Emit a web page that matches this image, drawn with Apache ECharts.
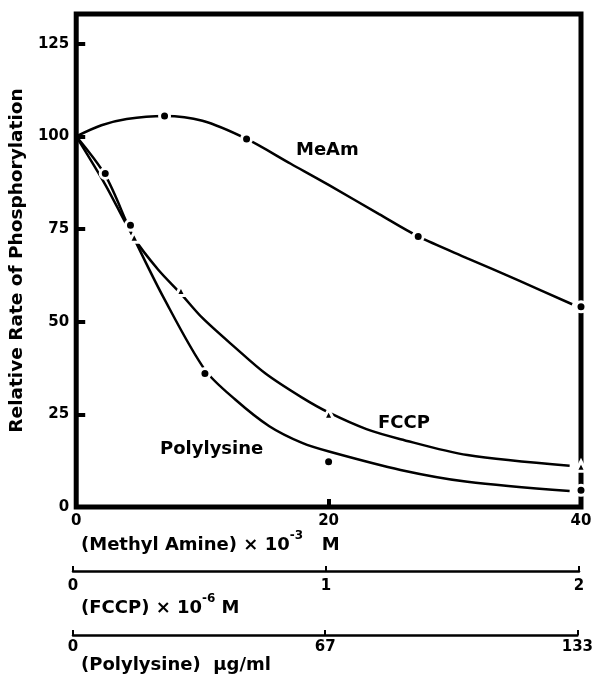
<!DOCTYPE html>
<html><head><meta charset="utf-8">
<script src="https://cdn.jsdelivr.net/npm/echarts@6/dist/echarts.min.js"></script>
<style>html,body{margin:0;padding:0;background:#fff}#c{width:596px;height:676px}</style>
</head><body><div id="c"></div>
<script>
// ---- data ----
const xTicks = [0, 20, 40];               // (Methyl Amine) x 10^-3 M
const fccpTicks = [0, 1, 2];              // (FCCP) x 10^-6 M
const polyTicks = [0, 67, 133];           // (Polylysine) ug/ml
const yTicks = [0, 25, 50, 75, 100, 125];

// measured points
const meamPointsX = [7, 13.5, 27.1, 40];
const meamPointsY = [105.5, 99.3, 73, 54];
const fccpPointsX = [4.6, 8.3, 20, 40];
const fccpPointsY = [72.8, 58.4, 25, 11];
const polyPointsX = [2.3, 4.3, 10.2, 20, 40];
const polyPointsY = [90, 76, 36, 12.2, 4.5];

// hand-drawn curves
const meamCurveX = [0, 2, 4, 7, 10, 13.5, 17, 20, 24, 27.1, 31, 35, 39.3];
const meamCurveY = [100, 103, 104.7, 105.5, 104.2, 99.3, 92.6, 86.9, 79, 73, 67.1, 61.2, 54.7];
const fccpCurveX = [0, 2.3, 4.6, 6.5, 8.3, 10, 12.6, 15, 17.9, 20, 23, 25.7, 31, 39.1];
const fccpCurveY = [100, 87, 72.5, 64, 57.5, 51, 43, 36, 29.5, 25.5, 21, 18.3, 14, 11.1];
const polyCurveX = [0, 2.3, 4.3, 7, 10.2, 12.6, 15.3, 17.9, 20.1, 25.7, 31, 39.1];
const polyCurveY = [100, 89.5, 74.5, 56, 37, 29, 21.8, 17.3, 14.9, 10, 6.8, 4.3];

const zip = (a, b) => a.map((v, i) => [v, b[i]]);
const FONT = 'DejaVu Sans';
const lab = {fontFamily: FONT, fontWeight: 'bold', fontSize: 15, color: '#000'};

const chart = echarts.init(document.getElementById('c'), null, {renderer: 'canvas'});

const lineSeries = (x, y) => ({
  type: 'line', xAxisIndex: 0, yAxisIndex: 0, data: zip(x, y), smooth: 0.3,
  showSymbol: false, silent: true, z: 2,
  lineStyle: {color: '#000', width: 2.5}
});
const pointSeries = (x, y, sym, size) => ({
  type: 'scatter', xAxisIndex: 0, yAxisIndex: 0, data: zip(x, y), symbol: sym, symbolSize: size, z: 3,
  itemStyle: {color: '#000', borderColor: '#fff', borderWidth: 3, opacity: 1}
});

const subAxis = (idx, max, interval, ticks, margin) => ({
  gridIndex: idx, type: 'value', min: 0, max: max, interval: interval,
  axisLine: {show: true, onZero: false, lineStyle: {color: '#000', width: 2.5}},
  axisTick: {show: true, inside: true, length: 5, lineStyle: {color: '#000', width: 2}},
  axisLabel: Object.assign({margin: margin, formatter: v => {
    const r = ticks.find(t => Math.abs(t - v) < 0.6); return r === undefined ? '' : String(r);
  }}, lab),
  splitLine: {show: false}
});

const option = {
  animation: false,
  backgroundColor: '#fff',
  grid: [
    {left: 73, right: 15, top: 14, bottom: 169, show: true, borderColor: '#000', borderWidth: 5, backgroundColor: 'transparent'},
    {left: 73, right: 17, top: 571, height: 0},
    {left: 73, right: 17, top: 635, height: 0}
  ],
  xAxis: [
    {gridIndex: 0, type: 'value', min: 0, max: 40, interval: 20,
     axisLine: {show: false},
     axisTick: {show: true, inside: true, length: 8, lineStyle: {color: '#000', width: 4}},
     axisLabel: Object.assign({margin: 7, formatter: v => xTicks.includes(v) ? String(v) : ''}, lab),
     splitLine: {show: false}},
    subAxis(1, 2, 1, fccpTicks, 8),
    subAxis(2, 133, 66.5, polyTicks, 5)
  ],
  yAxis: [
    {gridIndex: 0, type: 'value', min: 0, max: 133, interval: 25,
     axisLine: {show: false},
     axisTick: {show: true, inside: true, length: 9, lineStyle: {color: '#000', width: 4}},
     axisLabel: Object.assign({margin: 7, formatter: v => yTicks.includes(v) ? String(v) : ''}, lab),
     splitLine: {show: false},
     name: 'Relative Rate of Phosphorylation', nameLocation: 'middle', nameRotate: 90, nameGap: 41,
     nameTextStyle: {fontFamily: FONT, fontWeight: 'bold', fontSize: 18.5, color: '#000'}},
    {gridIndex: 1, type: 'value', show: false},
    {gridIndex: 2, type: 'value', show: false}
  ],
  series: [
    lineSeries(meamCurveX, meamCurveY),
    lineSeries(fccpCurveX, fccpCurveY),
    lineSeries(polyCurveX, polyCurveY),
    pointSeries(meamPointsX, meamPointsY, 'circle', 10),
    pointSeries(fccpPointsX, fccpPointsY, 'triangle', 10),
    pointSeries(polyPointsX, polyPointsY, 'circle', 10)
  ],
  graphic: [
    {type: 'text', x: 296, y: 150, style: {text: 'MeAm', font: 'bold 18px "DejaVu Sans"', fill: '#000', verticalAlign: 'middle'}},
    {type: 'text', x: 378, y: 423, style: {text: 'FCCP', font: 'bold 18px "DejaVu Sans"', fill: '#000', verticalAlign: 'middle'}},
    {type: 'text', x: 160, y: 449, style: {text: 'Polylysine', font: 'bold 18px "DejaVu Sans"', fill: '#000', verticalAlign: 'middle'}},
    {type: 'text', x: 81, y: 542, style: {
      text: '{n|(Methyl Amine) × 10}{s|-3}{n|   M}', verticalAlign: 'middle', fill: '#000',
      rich: {n: {fontFamily: FONT, fontWeight: 'bold', fontSize: 18, lineHeight: 24, verticalAlign: 'bottom'},
             s: {fontFamily: FONT, fontWeight: 'bold', fontSize: 12, lineHeight: 12, verticalAlign: 'top'}}}},
    {type: 'text', x: 81, y: 605, style: {
      text: '{n|(FCCP) × 10}{s|-6}{n| M}', verticalAlign: 'middle', fill: '#000',
      rich: {n: {fontFamily: FONT, fontWeight: 'bold', fontSize: 18, lineHeight: 24, verticalAlign: 'bottom'},
             s: {fontFamily: FONT, fontWeight: 'bold', fontSize: 12, lineHeight: 12, verticalAlign: 'top'}}}},
    {type: 'text', x: 81, y: 665, style: {text: '(Polylysine)  µg/ml', font: 'bold 18px "DejaVu Sans"', fill: '#000', verticalAlign: 'middle'}}
  ]
};
chart.setOption(option);
</script></body></html>
